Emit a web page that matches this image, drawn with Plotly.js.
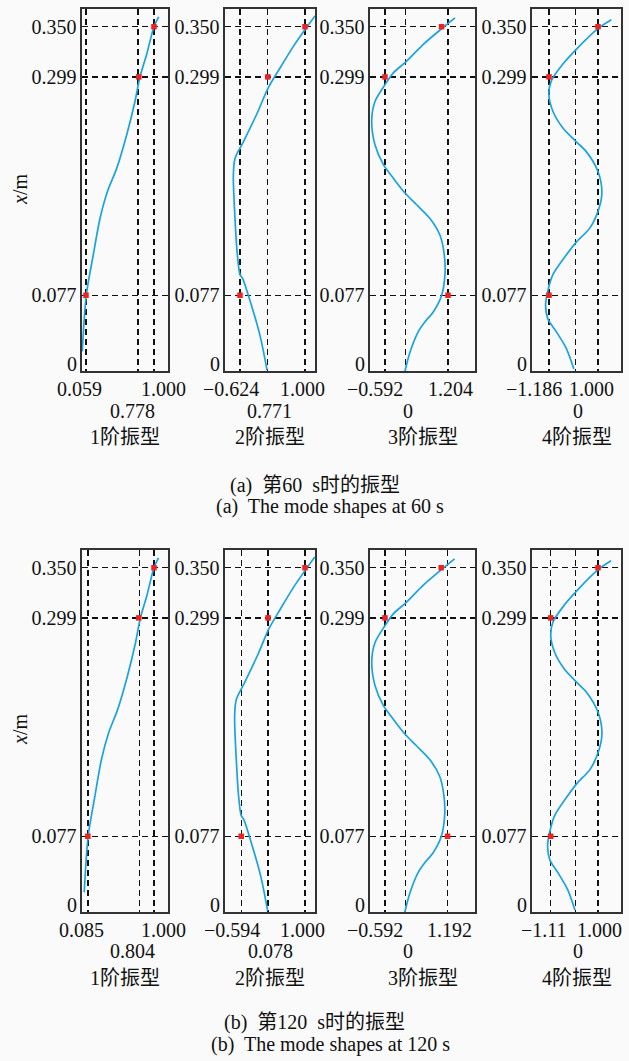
<!DOCTYPE html>
<html>
<head>
<meta charset="utf-8">
<script src="https://cdn.plot.ly/plotly-3.0.1.min.js"></script>
<style>html,body{margin:0;padding:0;background:#fafafa;}#chart{width:629px;height:1061px;}</style>
</head>
<body>
<div id="chart"></div>
<script>
// ---- data: heights (m) of sampled curve points ----
const y1 = [0.020, 0.077, 0.118, 0.155, 0.182, 0.206, 0.240, 0.274, 0.299, 0.322, 0.350, 0.360];
const y2 = [0.001, 0.036, 0.077, 0.094, 0.098, 0.118, 0.155, 0.199, 0.216, 0.233, 0.261, 0.288, 0.308, 0.330, 0.347, 0.361];
const y3 = [0, 0.019, 0.040, 0.050, 0.060, 0.077, 0.098, 0.118, 0.138, 0.155, 0.169, 0.181, 0.196, 0.210, 0.230, 0.254, 0.274, 0.291, 0.303, 0.315, 0.332, 0.348, 0.359];
const y4 = [0.002, 0.023, 0.040, 0.053, 0.067, 0.077, 0.098, 0.118, 0.131, 0.145, 0.165, 0.182, 0.203, 0.223, 0.233, 0.247, 0.264, 0.281, 0.295, 0.312, 0.327, 0.348, 0.357];

// 60 s mode shapes
const m1_60 = [0.008, 0.063, 0.160, 0.253, 0.354, 0.484, 0.622, 0.737, 0.806, 0.899, 1.000, 1.065];
const m2_60 = [0.051, -0.124, -0.416, -0.557, -0.624, -0.690, -0.749, -0.790, -0.749, -0.540, -0.207, 0.084, 0.376, 0.710, 1.000, 1.250];
const m3_60 = [-0.022, 0.120, 0.357, 0.548, 0.784, 1.023, 1.117, 1.098, 0.975, 0.690, 0.311, -0.022, -0.356, -0.641, -0.877, -0.971, -0.877, -0.592, -0.356, 0.026, 0.499, 1.023, 1.402];
const m4_60 = [-0.076, -0.415, -0.862, -1.237, -1.339, -1.281, -1.013, -0.415, 0.031, 0.625, 1.040, 1.174, 0.996, 0.478, 0.031, -0.567, -1.013, -1.192, -1.085, -0.567, 0.031, 0.996, 1.594];

// 120 s mode shapes
const m1_120 = [0.035, 0.089, 0.183, 0.273, 0.372, 0.498, 0.633, 0.745, 0.812, 0.903, 1.000, 1.063];
const m2_120 = [0.068, -0.104, -0.391, -0.528, -0.594, -0.660, -0.717, -0.758, -0.717, -0.513, -0.185, 0.100, 0.386, 0.712, 0.999, 1.244];
const m3_120 = [-0.025, 0.116, 0.351, 0.541, 0.776, 1.014, 1.108, 1.088, 0.966, 0.683, 0.306, -0.025, -0.357, -0.640, -0.875, -0.969, -0.875, -0.592, -0.357, 0.023, 0.493, 1.014, 1.391];
const m4_120 = [-0.030, -0.358, -0.789, -1.151, -1.250, -1.194, -0.935, -0.358, 0.073, 0.647, 1.047, 1.177, 1.004, 0.504, 0.073, -0.504, -0.935, -1.108, -1.004, -0.504, 0.073, 1.004, 1.582];

// red key points (x values at heights 0.077, 0.299, 0.350)
const keyY = [0.077, 0.299, 0.350];
const k1_60 = [0.059, 0.790, 1.000];
const k2_60 = [-0.624, 0.071, 1.000];
const k3_60 = [1.204, -0.592, 1.020];
const k4_60 = [-1.186, -1.186, 1.000];
const k1_120 = [0.085, 0.790, 1.000];
const k2_120 = [-0.594, 0.078, 1.000];
const k3_120 = [1.192, -0.592, 1.010];
const k4_120 = [-1.110, -1.110, 1.000];

// x tick values / labels (left, middle, right); the middle label sits on a second line
const xt1_60 = [0.059, 0.778, 1.000], xl1_60 = ["0.059", "0.778", "1.000"];
const xt2_60 = [-0.624, 0.071, 1.000], xl2_60 = ["\u22120.624", "0.771", "1.000"];
const xt3_60 = [-0.592, 0, 1.204],     xl3_60 = ["\u22120.592", "0", "1.204"];
const xt4_60 = [-1.186, 0, 1.000],     xl4_60 = ["\u22121.186", "0", "1.000"];
const xt1_120 = [0.085, 0.804, 1.000], xl1_120 = ["0.085", "0.804", "1.000"];
const xt2_120 = [-0.594, 0.078, 1.000], xl2_120 = ["\u22120.594", "0.078", "1.000"];
const xt3_120 = [-0.592, 0, 1.192],    xl3_120 = ["\u22120.592", "0", "1.192"];
const xt4_120 = [-1.11, 0, 1.000],     xl4_120 = ["\u22121.11", "0", "1.000"];

const yTicks = [0, 0.077, 0.299, 0.350];
const yTickText = ["0", "0.077", "0.299", "0.350"];
const modeNames = ["1阶振型", "2阶振型", "3阶振型", "4阶振型"];
const captions = [["(a)  第60  s时的振型", "(a)  The mode shapes at 60 s"], ["(b)  第120  s时的振型", "(b)  The mode shapes at 120 s"]];

// ---- layout / style ----
const W = 629, H = 1061;
const FONT = "Liberation Serif, Times New Roman, Noto Sans CJK SC, serif";
const FS = 20;
const colPx = [[82, 168], [225, 315], [370, 475], [532, 621]];
const rowPx = [[9, 371], [550, 912]];
const xRanges = [[0.004, 1.194], [-0.999, 1.25], [-1.019, 1.973], [-1.945, 2.027]];
const yRange = [0, 0.368];
const labelRowPx = [[389, 411], [930, 951]];
const modeRowPx = [437, 978];
const capPx = [[486, 506], [1022, 1044]];
const labelShift = [
  [[-6, -5, 10], [-9, 2, -3], [-10, 2, 2], [-15, 2, -6]],
  [[-6, -7, 10], [-9, 2, -3], [-10, 2, 2], [-7, 2, 2]]
];

const panels = [
  [[y1, m1_60, k1_60, xt1_60, xl1_60], [y2, m2_60, k2_60, xt2_60, xl2_60], [y3, m3_60, k3_60, xt3_60, xl3_60], [y4, m4_60, k4_60, xt4_60, xl4_60]],
  [[y1, m1_120, k1_120, xt1_120, xl1_120], [y2, m2_120, k2_120, xt2_120, xl2_120], [y3, m3_120, k3_120, xt3_120, xl3_120], [y4, m4_120, k4_120, xt4_120, xl4_120]]
];

const data = [];
const layout = {
  width: W, height: H,
  margin: {l: 0, r: 0, t: 0, b: 0},
  paper_bgcolor: "#fafafa", plot_bgcolor: "#fafafa",
  showlegend: false,
  font: {family: FONT, color: "#111", size: FS},
  annotations: []
};
const txtFont = {family: FONT, size: FS, color: "#111"};

let idx = 0;
for (let r = 0; r < 2; r++) {
  for (let c = 0; c < 4; c++) {
    idx++;
    const sfx = idx === 1 ? "" : String(idx);
    const [yy, xx, kk, xt, xl] = panels[r][c];
    data.push({x: xx, y: yy, xaxis: "x" + sfx, yaxis: "y" + sfx, type: "scatter", mode: "lines",
      line: {color: "#1aa3e0", width: 1.7, shape: "spline", smoothing: 0.8}, hoverinfo: "skip"});
    data.push({x: kk, y: keyY, xaxis: "x" + sfx, yaxis: "y" + sfx, type: "scatter", mode: "markers",
      marker: {color: "#ee2222", size: 5.5, symbol: "square"}, hoverinfo: "skip"});
    const common = {showline: true, mirror: true, linecolor: "#333", linewidth: 1.6, zeroline: false,
      showgrid: true, gridcolor: "#111", gridwidth: 1.3, griddash: "6px,4px", ticks: "", fixedrange: true,
      layer: "below traces"};
    layout["xaxis" + sfx] = Object.assign({}, common, {
      domain: [colPx[c][0] / W, colPx[c][1] / W], range: xRanges[c], anchor: "y" + sfx,
      tickmode: "array", tickvals: xt, showticklabels: false
    });
    layout["yaxis" + sfx] = Object.assign({}, common, {
      domain: [1 - rowPx[r][1] / H, 1 - rowPx[r][0] / H], range: yRange, anchor: "x" + sfx,
      tickmode: "array", tickvals: yTicks.slice(1), ticktext: yTickText.slice(1), tickfont: txtFont,
      ticklabelstandoff: 0
    });
    // the "0" height label sits a little above the frame corner, as in the original
    layout.annotations.push({text: yTickText[0], xref: "x" + sfx + " domain", yref: "y" + sfx,
      x: 0, y: yTicks[0], xanchor: "right", yanchor: "middle", xshift: -3, yshift: 7,
      showarrow: false, font: txtFont});
    // x tick labels, placed through the x scale
    for (let i = 0; i < xt.length; i++) {
      layout.annotations.push({text: xl[i], xref: "x" + sfx, yref: "paper", x: xt[i],
        y: 1 - labelRowPx[r][i === 1 ? 1 : 0] / H, xshift: labelShift[r][c][i],
        showarrow: false, xanchor: "center", yanchor: "middle", font: txtFont});
    }
    layout.annotations.push({text: modeNames[c], xref: "x" + sfx + " domain", yref: "paper",
      x: 0.5, y: 1 - modeRowPx[r] / H, showarrow: false, xanchor: "center", yanchor: "middle",
      font: txtFont});
  }
  layout.annotations.push({text: "<i>x</i>/m", xref: "paper", yref: "paper", x: 20 / W,
    y: 1 - (r === 0 ? 190 : 730) / H, textangle: -90, showarrow: false, xanchor: "center", yanchor: "middle",
    font: txtFont});
  layout.annotations.push({text: captions[r][0], xref: "paper", yref: "paper", x: 315 / W,
    y: 1 - capPx[r][0] / H, showarrow: false, xanchor: "center", yanchor: "middle", font: txtFont});
  layout.annotations.push({text: captions[r][1], xref: "paper", yref: "paper", x: 330 / W,
    y: 1 - capPx[r][1] / H, showarrow: false, xanchor: "center", yanchor: "middle", font: txtFont});
}

Plotly.newPlot("chart", data, layout, {displayModeBar: false, staticPlot: true});
</script>
</body>
</html>
